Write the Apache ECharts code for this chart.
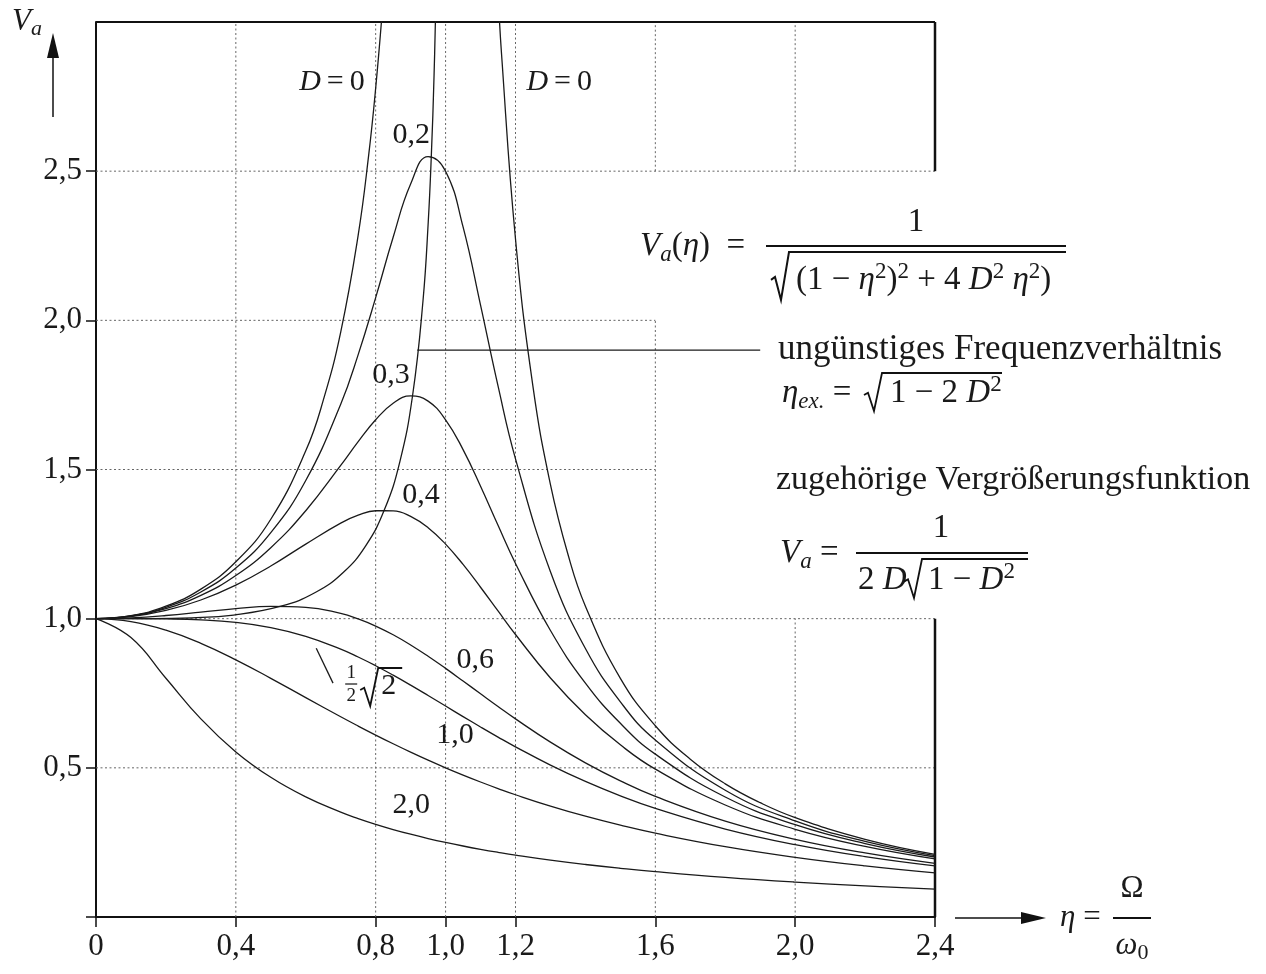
<!DOCTYPE html>
<html>
<head>
<meta charset="utf-8">
<title>Vergrößerungsfunktion</title>
<script src="https://cdn.jsdelivr.net/npm/echarts@6/dist/echarts.min.js"></script>
<style>
html, body { margin: 0; padding: 0; background: #fff; }
#main { width: 1266px; height: 974px; }
</style>
</head>
<body>
<div id="main"></div>
<script>
// frequency ratio eta for the damped curves
var eta = [0, 0.1, 0.2, 0.3, 0.4, 0.5, 0.6, 0.7, 0.75, 0.8, 0.85, 0.9, 0.95, 1.0, 1.05, 1.1, 1.15, 1.2, 1.3, 1.4, 1.5, 1.6, 1.8, 2.0, 2.2, 2.4];
var vD02 = [1, 1.0093, 1.0381, 1.0895, 1.1695, 1.2883, 1.4630, 1.7188, 1.8851, 2.0761, 2.2785, 2.4566, 2.5490, 2.5, 2.3131, 2.0511, 1.7800, 1.5357, 1.1574, 0.8998, 0.7212, 0.5931, 0.4250, 0.3221, 0.2538, 0.2059];
var vD03 = [1, 1.0083, 1.0336, 1.0780, 1.1447, 1.2380, 1.3618, 1.5136, 1.5933, 1.6667, 1.7223, 1.7469, 1.7293, 1.6667, 1.5667, 1.4438, 1.3129, 1.1851, 0.9603, 0.7839, 0.6492, 0.5459, 0.4021, 0.3095, 0.2463, 0.2011];
var vD04 = [1, 1.0068, 1.0275, 1.0626, 1.1125, 1.1765, 1.25, 1.3203, 1.3467, 1.3618, 1.3616, 1.3429, 1.3051, 1.25, 1.1817, 1.1053, 1.0258, 0.9469, 0.8012, 0.6779, 0.5771, 0.4956, 0.3755, 0.2941, 0.2367, 0.1948];
var vD06 = [1, 1.0028, 1.0106, 1.0218, 1.0336, 1.0412, 1.0381, 1.0176, 0.9993, 0.9753, 0.9460, 0.9119, 0.8740, 0.8333, 0.7910, 0.7482, 0.7056, 0.6641, 0.5862, 0.5168, 0.4563, 0.4042, 0.3214, 0.2603, 0.2146, 0.1797];
var vD07 = [1, 1.0000, 0.9992, 0.9960, 0.9874, 0.9701, 0.9409, 0.8980, 0.8716, 0.8423, 0.8106, 0.7771, 0.7424, 0.7071, 0.6718, 0.6370, 0.6031, 0.5704, 0.5092, 0.4545, 0.4061, 0.3639, 0.2949, 0.2425, 0.2023, 0.1711];
var vD10 = [1, 0.9901, 0.9615, 0.9174, 0.8621, 0.8, 0.7353, 0.6711, 0.64, 0.6098, 0.5806, 0.5525, 0.5256, 0.5, 0.4756, 0.4525, 0.4306, 0.4098, 0.3717, 0.3378, 0.3077, 0.2809, 0.2358, 0.2, 0.1712, 0.1479];
var vD20 = [1, 0.9365, 0.8002, 0.6640, 0.5534, 0.4682, 0.4026, 0.3514, 0.3298, 0.3105, 0.2931, 0.2774, 0.2631, 0.25, 0.2380, 0.2270, 0.2169, 0.2075, 0.1906, 0.1760, 0.1632, 0.1518, 0.1326, 0.1170, 0.1042, 0.0933];

// undamped curve D=0, both branches (leaves the chart at the top)
var etaD0L = [0, 0.1, 0.2, 0.3, 0.4, 0.5, 0.6, 0.65, 0.7, 0.75, 0.78, 0.8, 0.82];
var vD0L = [1, 1.0101, 1.0417, 1.0989, 1.1905, 1.3333, 1.5625, 1.7316, 1.9608, 2.2857, 2.5536, 2.7778, 3.0525];
var etaD0R = [1.15, 1.16, 1.2, 1.25, 1.3, 1.35, 1.4, 1.5, 1.6, 1.7, 1.8, 1.9, 2.0, 2.2, 2.4];
var vD0R = [3.1008, 2.8935, 2.2727, 1.7778, 1.4493, 1.2158, 1.0417, 0.8, 0.6410, 0.5291, 0.4464, 0.3831, 0.3333, 0.2604, 0.2101];

// curve through the maxima (eta_ex, V_a max)
var etaLocus = [0, 0.1414, 0.2742, 0.3937, 0.5292, 0.6285, 0.7071, 0.7714, 0.8246, 0.8689, 0.9055, 0.9354, 0.9504, 0.9592, 0.9671, 0.9741];
var vLocus = [1, 1.0002, 1.0029, 1.0122, 1.0417, 1.0885, 1.1547, 1.2442, 1.3639, 1.5250, 1.7471, 2.0656, 2.3298, 2.5516, 2.8239, 3.1658];

var xTicks = [0, 0.4, 0.8, 1.0, 1.2, 1.6, 2.0, 2.4];
var yTicks = [0, 0.5, 1.0, 1.5, 2.0, 2.5];
var yTickLabels = [0.5, 1.0, 1.5, 2.0, 2.5];

// dotted grid segments: [value, from, to]
var gridH = [[0.5, 0, 2.4], [1.0, 0, 2.4], [1.5, 0, 1.6], [2.0, 0, 1.6], [2.5, 0, 2.4]];
var gridV = [[0.4, 0, 3], [0.8, 0, 3], [1.0, 0, 3], [1.2, 0, 3], [1.6, 0, 2.0], [1.6, 2.5, 3], [2.0, 0, 1.0], [2.0, 2.5, 3]];
// solid frame pieces (top and right side)
var frameH = [[3, 0, 2.4]];
var frameV = [[2.4, 0, 1.0], [2.4, 2.5, 3]];

// curve labels: text, eta, V
var curveLabels = [
  ['{i|D}\u2009=\u20090', 0.675, 2.80],
  ['{i|D}\u2009=\u20090', 1.325, 2.80],
  ['0,2', 0.902, 2.62],
  ['0,3', 0.844, 1.816],
  ['0,4', 0.930, 1.414],
  ['0,6', 1.085, 0.861],
  ['1,0', 1.027, 0.610],
  ['2,0', 0.902, 0.375]
];
var leaderEx = [[0.919, 1.9], [1.9, 1.9]];
var leaderHalf = [[0.630, 0.901], [0.678, 0.784]];
var halfAnchor = [0.730, 0.781];

var FONT = '"Liberation Serif", "Times New Roman", serif';
var INK = '#1a1a1a';

function pairs(xs, ys) {
  return xs.map(function (x, i) { return [x, ys[i]]; });
}

function curve(name, data, smooth) {
  return {
    name: name, type: 'line', data: data, smooth: smooth === undefined ? 0.45 : smooth,
    symbol: 'none', silent: true, z: 3,
    lineStyle: { color: INK, width: 1.3 }
  };
}

function seg(data, dotted, width) {
  return {
    type: 'line', data: data, symbol: 'none', silent: true, clip: false, z: dotted ? 1 : 2,
    lineStyle: { color: dotted ? '#666' : '#111', width: width, type: dotted ? [2, 2.5] : 'solid' }
  };
}

var series = [
  curve('D=0 links', pairs(etaD0L, vD0L)),
  curve('D=0 rechts', pairs(etaD0R, vD0R)),
  curve('0,2', pairs(eta, vD02)),
  curve('0,3', pairs(eta, vD03)),
  curve('0,4', pairs(eta, vD04)),
  curve('0,6', pairs(eta, vD06)),
  curve('1/2 sqrt2', pairs(eta, vD07)),
  curve('1,0', pairs(eta, vD10)),
  curve('2,0', pairs(eta, vD20)),
  curve('eta_ex', pairs(etaLocus, vLocus)),
  curve('leader1', leaderEx, false),
  curve('leader2', leaderHalf, false)
];
gridH.forEach(function (g) { series.push(seg([[g[1], g[0]], [g[2], g[0]]], true, 1)); });
gridV.forEach(function (g) { series.push(seg([[g[0], g[1]], [g[0], g[2]]], true, 1)); });
frameH.forEach(function (g) { series.push(seg([[g[1], g[0]], [g[2], g[0]]], false, 2)); });
frameV.forEach(function (g) { series.push(seg([[g[0], g[1]], [g[0], g[2]]], false, 2.5)); });

function fmt(v) {
  return v === 0 ? '0' : v.toFixed(1).replace('.', ',');
}

var chart = echarts.init(document.getElementById('main'));
chart.setOption({
  animation: false,
  backgroundColor: '#fff',
  grid: { left: 96, right: 331, top: 22, bottom: 57 },
  xAxis: {
    type: 'value', min: 0, max: 2.4, interval: 0.2,
    axisLine: { lineStyle: { color: '#111', width: 2 } },
    axisTick: { customValues: xTicks, length: 10, lineStyle: { color: '#111', width: 1.5 } },
    axisLabel: { customValues: xTicks, formatter: fmt, margin: 14, color: INK, fontFamily: FONT, fontSize: 31 },
    splitLine: { show: false }
  },
  yAxis: {
    type: 'value', min: 0, max: 3, interval: 0.5,
    axisLine: { show: true, lineStyle: { color: '#111', width: 2 } },
    axisTick: { show: true, customValues: yTicks, length: 10, lineStyle: { color: '#111', width: 1.5 } },
    axisLabel: { customValues: yTickLabels, formatter: fmt, margin: 14, color: INK, fontFamily: FONT, fontSize: 31 },
    splitLine: { show: false }
  },
  series: series
});

function rich(fs) {
  var s = Math.round(fs * 0.7), lh = Math.round(fs * 1.2);
  return {
    i: { fontFamily: FONT, fontStyle: 'italic', fontSize: fs, lineHeight: lh, fill: INK },
    sup: { fontFamily: FONT, fontSize: s, verticalAlign: 'top', lineHeight: s, fill: INK },
    sub: { fontFamily: FONT, fontStyle: 'italic', fontSize: s, verticalAlign: 'bottom', lineHeight: s, fill: INK },
    subn: { fontFamily: FONT, fontSize: s, verticalAlign: 'bottom', lineHeight: s, fill: INK }
  };
}

function T(x, y, text, fs, align) {
  fs = fs || 33;
  return {
    type: 'text', x: x, y: y, z: 100,
    style: {
      text: text, fontFamily: FONT, fontSize: fs, lineHeight: Math.round(fs * 1.2), fill: INK,
      align: align || 'left', verticalAlign: 'middle', rich: rich(fs)
    }
  };
}

function L(x1, y1, x2, y2, w) {
  return { type: 'line', z: 100, shape: { x1: x1, y1: y1, x2: x2, y2: y2 }, style: { stroke: '#111', lineWidth: w || 1.5 } };
}

function rad(x0, yTop, yBot, xEnd, w) {
  var h = yBot - yTop;
  return {
    type: 'polyline', z: 100,
    shape: { points: [[x0, yBot - 0.42 * h], [x0 + 4, yBot - 0.48 * h], [x0 + 10, yBot], [x0 + 18, yTop], [xEnd, yTop]] },
    style: { stroke: '#111', lineWidth: w || 1.6, fill: null }
  };
}

function P(pts) {
  return { type: 'polygon', z: 100, shape: { points: pts }, style: { fill: '#111' } };
}

var g = [];
curveLabels.forEach(function (c) {
  var p = chart.convertToPixel({ gridIndex: 0 }, [c[1], c[2]]);
  g.push(T(p[0], p[1], c[0], 30, 'center'));
});

// 1/2 sqrt(2) label
var h = chart.convertToPixel({ gridIndex: 0 }, halfAnchor);
g.push(T(h[0], h[1] - 11, '1', 19, 'center'));
g.push(L(h[0] - 6, h[1], h[0] + 6, h[1], 1.2));
g.push(T(h[0], h[1] + 12, '2', 19, 'center'));
g.push(rad(h[0] + 9, h[1] - 16, h[1] + 22, h[0] + 51, 1.8));
g.push(T(h[0] + 30, h[1] + 2, '2', 30));

// axis names and arrows
g.push(T(12, 22, '{i|V}{sub|a}', 31));
g.push(L(53, 117, 53, 52, 1.5));
g.push(P([[53, 33], [47, 58], [59, 58]]));
g.push(L(955, 918, 1028, 918, 1.5));
g.push(P([[1046, 918], [1021, 912], [1021, 924]]));
g.push(T(1060, 918, '{i|\u03b7} =', 31));
g.push(T(1132, 889, '\u03a9', 31, 'center'));
g.push(L(1113, 918, 1151, 918, 2));
g.push(T(1132, 946, '{i|\u03c9}{subn|0}', 31, 'center'));

// Vergrößerungsfunktion
g.push(T(640, 246, '{i|V}{sub|a}({i|\u03b7})\u2002=', 33));
g.push(T(916, 222, '1', 33, 'center'));
g.push(L(766, 246, 1066, 246, 2));
g.push(rad(771, 252, 300, 1066, 2));
g.push(T(796, 280, '(1 \u2212 {i|\u03b7}{sup|2}){sup|2} + 4 {i|D}{sup|2} {i|\u03b7}{sup|2})', 33));

// ungünstiges Frequenzverhältnis
g.push(T(778, 350, 'ungünstiges Frequenzverhältnis', 35));
g.push(T(782, 393, '{i|\u03b7}{sub|ex.} =', 33));
g.push(rad(864, 373, 411, 1002, 1.8));
g.push(T(890, 393, '1 \u2212 2 {i|D}{sup|2}', 33));

// zugehörige Vergrößerungsfunktion
g.push(T(776, 480, 'zugehörige Vergrößerungsfunktion', 34));
g.push(T(780, 553, '{i|V}{sub|a} =', 33));
g.push(T(941, 528, '1', 33, 'center'));
g.push(L(856, 553, 1028, 553, 2));
g.push(T(858, 580, '2 {i|D}', 33));
g.push(rad(904, 559, 598, 1028, 1.8));
g.push(T(928, 580, '1 \u2212 {i|D}{sup|2}', 33));

chart.setOption({ graphic: g });
</script>
</body>
</html>
